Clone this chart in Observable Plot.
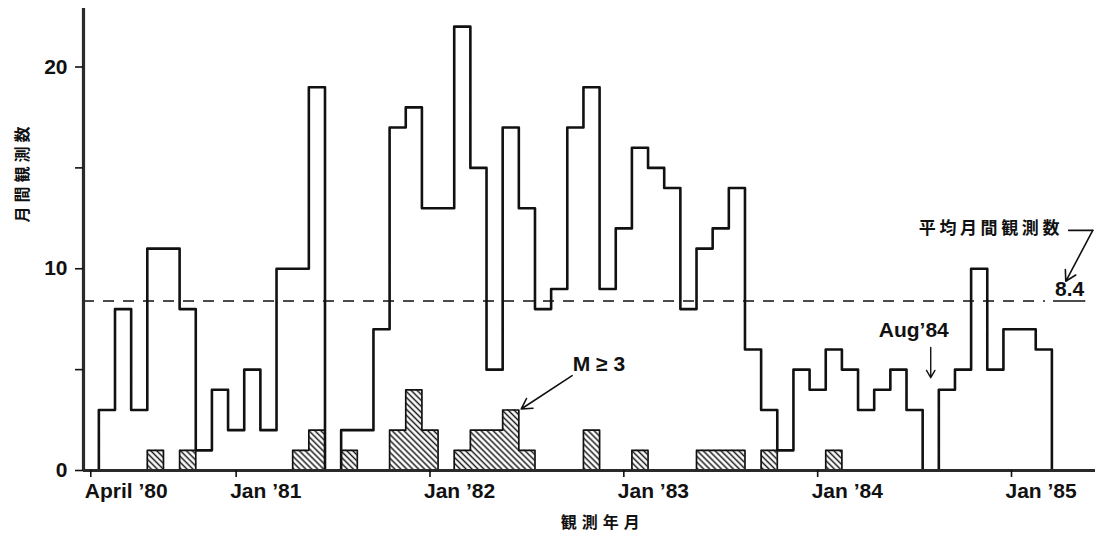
<!DOCTYPE html>
<html>
<head>
<meta charset="utf-8">
<script src="https://cdn.jsdelivr.net/npm/d3@7"></script>
<script src="https://cdn.jsdelivr.net/npm/@observablehq/plot@0.6"></script>
<style>
  html, body { margin: 0; padding: 0; background: #fff; }
  #chart svg { display: block; }
</style>
</head>
<body>
<div id="chart"></div>
<script>
// ---- data ----
const months = [
  "1980-05","1980-06","1980-07","1980-08","1980-09","1980-10","1980-11","1980-12",
  "1981-01","1981-02","1981-03","1981-04","1981-05","1981-06","1981-07","1981-08","1981-09","1981-10","1981-11","1981-12",
  "1982-01","1982-02","1982-03","1982-04","1982-05","1982-06","1982-07","1982-08","1982-09","1982-10","1982-11","1982-12",
  "1983-01","1983-02","1983-03","1983-04","1983-05","1983-06","1983-07","1983-08","1983-09","1983-10","1983-11","1983-12",
  "1984-01","1984-02","1984-03","1984-04","1984-05","1984-06","1984-07","1984-08","1984-09","1984-10","1984-11","1984-12",
  "1985-01","1985-02","1985-03"
];
const totalCounts = [
  3, 8, 3, 11, 11, 8, 1, 4,
  2, 5, 2, 10, 10, 19, 0, 2, 2, 7, 17, 18,
  13, 13, 22, 15, 5, 17, 13, 8, 9, 17, 19, 9,
  12, 16, 15, 14, 8, 11, 12, 14, 6, 3, 1, 5,
  4, 6, 5, 3, 4, 5, 3, 0, 4, 5, 10, 5,
  7, 7, 6
];
const m3Months = [
  "1980-08","1980-10","1981-05","1981-06","1981-08","1981-11","1981-12",
  "1982-01","1982-03","1982-04","1982-05","1982-06","1982-07","1982-11",
  "1983-02","1983-06","1983-07","1983-08","1983-10","1984-02"
];
const m3Counts = [1, 1, 1, 2, 1, 2, 4, 2, 1, 2, 2, 3, 1, 2, 1, 1, 1, 1, 1, 1];
const meanCount = 8.4;
const tickMonths = ["1980-04","1981-01","1982-01","1983-01","1984-01","1985-01"];
const tickLabels = ["April ’80","Jan ’81","Jan ’82","Jan ’83","Jan ’84","Jan ’85"];
const yTicks = [0, 5, 10, 15, 20];
const yTickLabels = ["0", "", "10", "", "20"];
const yTitle = "月間観測数";
const xTitle = "観測年月";
const meanTitle = "平均月間観測数";
const m3Label = "M ≥ 3";
const gapLabel = "Aug’84";
const gapMonth = "1984-08";
const m3PeakMonth = "1982-06";

// ---- helpers ----
const idx = s => { const [y, m] = s.split("-").map(Number); return (y - 1980) * 12 + (m - 4); };
const totals = months.map((s, i) => ({m: idx(s), v: totalCounts[i]}));
const lastT = totals[totals.length - 1];
const stepPts = [{m: totals[0].m, v: 0}, ...totals, {m: lastT.m + 1, v: 0}];
// M>=3 series over all months (months without an entry have none)
const m3Lookup = new Map(m3Months.map((s, i) => [idx(s), m3Counts[i]]));
const m3Series = totals.map(d => ({m: d.m, v: m3Lookup.get(d.m) ?? 0}));
const m3Pts = [{m: totals[0].m, v: 0}, ...m3Series, {m: lastT.m + 1, v: 0}];
const m3AreaPts = [...m3Series, {m: lastT.m + 1, v: 0}];
const tickPos = tickMonths.map(s => idx(s) + 0.5);
const tickMap = new Map(tickPos.map((p, i) => [p, tickLabels[i]]));
const yMap = new Map(yTicks.map((t, i) => [t, yTickLabels[i]]));

const xDomain = [0.05, 62.7];
const yDomain = [0, 22.9];
const ink = "#111";
const latin = "'Liberation Sans', Arial, Helvetica, sans-serif";
const cjk = "'Noto Sans CJK JP', 'Noto Sans CJK SC', sans-serif";

const gapX = idx(gapMonth) + 0.5;
const peakM = idx(m3PeakMonth);
const peakV = m3Lookup.get(peakM);
const lastMonthEnd = lastT.m + 1;

const plot = Plot.plot({
  width: 1102,
  height: 534,
  marginLeft: 83,
  marginRight: 7,
  marginTop: 8,
  marginBottom: 64,
  style: {fontFamily: latin, fontSize: "21px", background: "#fff", color: ink},
  x: {type: "linear", domain: xDomain, axis: null},
  y: {type: "linear", domain: yDomain, axis: null},
  marks: [
    // mean dashed line
    Plot.ruleY([meanCount], {x1: xDomain[0], x2: lastMonthEnd - 0.4, stroke: ink, strokeWidth: 1.6, strokeDasharray: "11,9"}),
    Plot.ruleY([meanCount], {x1: lastMonthEnd + 0.1, x2: lastMonthEnd + 2.1, stroke: ink, strokeWidth: 1.6}),
    // M>=3 hatched area with outline
    Plot.areaY(m3AreaPts, {x: "m", y: "v", curve: "step-after", fill: "url(#hatch)"}),
    Plot.line(m3Pts, {x: "m", y: "v", curve: "step-after", stroke: ink, strokeWidth: 1.7}),
    // total monthly counts (step outline)
    Plot.line(stepPts, {x: "m", y: "v", curve: "step-after", stroke: ink, strokeWidth: 2.6}),
    // axes lines
    Plot.ruleY([0], {x1: xDomain[0], x2: xDomain[1], stroke: "#2a2a2a", strokeWidth: 3.2}),
    Plot.ruleX([xDomain[0]], {y1: 0, y2: yDomain[1], stroke: "#2a2a2a", strokeWidth: 3.2}),
    // x ticks + labels
    Plot.axisX(tickPos, {tickSize: 7, tickFormat: () => "", label: null, strokeWidth: 1.6, stroke: ink}),
    Plot.text(tickPos, {x: d => d, y: 0, dy: 21, dx: -6, text: d => tickMap.get(d), textAnchor: "start", fontWeight: "bold", fontSize: 21, fill: ink}),
    // y ticks + labels
    Plot.axisY(yTicks, {tickSize: 8, tickPadding: 8, tickFormat: d => yMap.get(d), label: null, strokeWidth: 1.6, stroke: ink, fontSize: 21, fontWeight: "bold", fill: ink}),
    // axis titles
    Plot.text([yTitle], {x: xDomain[0], y: 14.77, dx: -61, rotate: -90, text: d => d, fontFamily: cjk, fontSize: 16, fontWeight: "bold", fill: ink}),
    Plot.text([xTitle], {x: 32.2, y: 0, dy: 52, text: d => d, fontFamily: cjk, fontSize: 16, fontWeight: "bold", fill: ink}),
    // M>=3 annotation
    Plot.text([m3Label], {x: 30.34, y: 5.28, text: d => d, textAnchor: "start", fontWeight: "bold", fontSize: 21, fill: ink}),
    Plot.arrow([0], {x1: 30.3, y1: 4.7, x2: peakM + 1.15, y2: peakV + 0.05, stroke: ink, strokeWidth: 1.6, headLength: 11}),
    // Aug'84 annotation
    Plot.text([gapLabel], {x: gapX, y: 6.94, dx: -17, text: d => d, fontWeight: "bold", fontSize: 21, fill: ink}),
    Plot.arrow([0], {x1: gapX, y1: 6.1, x2: gapX, y2: 4.6, stroke: ink, strokeWidth: 1.4, headLength: 9}),
    // mean annotation
    Plot.text([meanTitle], {x: 51.76, y: 12.0, text: d => d, textAnchor: "start", fontFamily: cjk, fontSize: 17, fontWeight: "bold", fill: ink}),
    Plot.line([{m: 61.04, v: 11.9}, {m: 62.53, v: 11.9}], {x: "m", y: "v", stroke: ink, strokeWidth: 1.6}),
    Plot.arrow([0], {x1: 62.53, y1: 11.9, x2: 60.86, y2: 9.38, stroke: ink, strokeWidth: 1.6, headLength: 11}),
    Plot.text([String(meanCount)], {x: lastMonthEnd + 1.1, y: 9.0, text: d => d, fontWeight: "bold", fontSize: 21, fill: ink})
  ]
});

// hatch pattern definition
const ns = "http://www.w3.org/2000/svg";
const defs = document.createElementNS(ns, "defs");
defs.innerHTML = '<pattern id="hatch" patternUnits="userSpaceOnUse" width="4.2" height="4.2" patternTransform="rotate(45)">' +
  '<rect width="4.2" height="4.2" fill="#fff"/>' +
  '<line x1="-1" y1="2.1" x2="6" y2="2.1" stroke="#1a1a1a" stroke-width="1.5"/></pattern>';
plot.insertBefore(defs, plot.firstChild);

// letter spacing for CJK labels
plot.querySelectorAll("text").forEach(t => {
  const s = t.textContent;
  if (s === yTitle) t.setAttribute("letter-spacing", "4");
  if (s === xTitle) t.setAttribute("letter-spacing", "5");
  if (s === meanTitle) t.setAttribute("letter-spacing", "3.6");
});

document.getElementById("chart").appendChild(plot);
</script>
</body>
</html>
